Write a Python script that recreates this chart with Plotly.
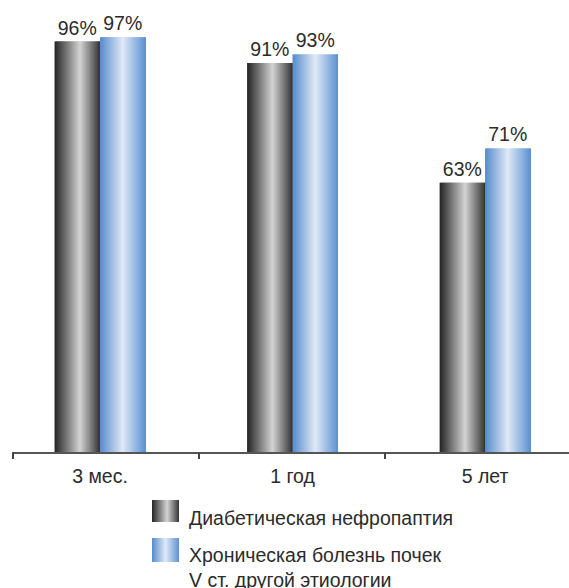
import plotly.graph_objects as go

# ---- data ----
categories = ["3 мес.", "1 год", "5 лет"]
diabetic = [96, 91, 63]          # Диабетическая нефропаптия
other = [97, 93, 71]             # ХБП V ст. другой этиологии
series_names = ["Диабетическая нефропаптия",
                "Хроническая болезнь почек<br>V ст. другой этиологии"]

# ---- styling ----
FONT = "Liberation Sans, Arial, sans-serif"
TXT = "#2b2b2b"
W, H = 569, 588
ML, MR, MT, MB = 12, 0, 0, 136
PW, PH = W - ML - MR, H - MT - MB
X_RANGE = [-0.457, 2.436]
Y_RANGE = [0, 105.73]
BAR_W = 0.236
N_STRIPES = 45
FS = 19.5

dark_stops = [(0.0, (36, 36, 36)), (0.56, (212, 212, 212)), (1.0, (52, 52, 52))]
blue_stops = [(0.0, (86, 139, 204)), (0.5, (224, 233, 247)), (1.0, (92, 146, 209))]


def grad(stops, t):
    for (t0, c0), (t1, c1) in zip(stops[:-1], stops[1:]):
        if t0 <= t <= t1:
            f = (t - t0) / (t1 - t0) if t1 > t0 else 0
            c = [round(a + (b - a) * f) for a, b in zip(c0, c1)]
            return f"rgb({c[0]},{c[1]},{c[2]})"
    c = stops[-1][1]
    return f"rgb({c[0]},{c[1]},{c[2]})"


fig = go.Figure()


def add_gradient_bars(values, base_offset, stops):
    step = BAR_W / N_STRIPES
    for i in range(N_STRIPES):
        t = (i + 0.5) / N_STRIPES
        w = step * 2.2 if i < N_STRIPES - 2 else BAR_W - i * step
        fig.add_trace(go.Bar(
            x=categories, y=values,
            offset=base_offset + i * step, width=w,
            marker=dict(color=grad(stops, t), line=dict(width=0)),
            showlegend=False, hoverinfo="skip",
        ))
    # transparent full-width bar carrying the value labels
    fig.add_trace(go.Bar(
        x=categories, y=values, offset=base_offset, width=BAR_W,
        marker=dict(color="rgba(0,0,0,0)", line=dict(width=0)),
        text=[f"{v}%" for v in values], textposition="outside",
        constraintext="none", cliponaxis=False,
        textfont=dict(family=FONT, size=FS, color=TXT),
        showlegend=False, hoverinfo="skip",
    ))


add_gradient_bars(diabetic, -BAR_W, dark_stops)
add_gradient_bars(other, 0.0, blue_stops)

# empty trace so the tick-mark axis exists
fig.add_trace(go.Scatter(x=[], y=[], xaxis="x2", showlegend=False, hoverinfo="skip"))


def px_to_paper_x(p):
    return (p - ML) / PW


def px_to_paper_y(p):
    return (MT + PH - p) / PH


shapes = []
annotations = []
legend_rows = [
    (dark_stops, 500, 522, 517.5, series_names[0]),
    (blue_stops, 538, 562, 567.4, series_names[1]),
]
SW_X0, SW_X1 = 152, 179
for stops, top, bot, text_mid, label in legend_rows:
    n = 27
    sw = (SW_X1 - SW_X0) / n
    for i in range(n):
        t = (i + 0.5) / n
        x0 = SW_X0 + i * sw
        x1 = min(x0 + sw * 2, SW_X1)
        shapes.append(dict(
            type="rect", xref="paper", yref="paper",
            x0=px_to_paper_x(x0), x1=px_to_paper_x(x1),
            y0=px_to_paper_y(bot), y1=px_to_paper_y(top),
            fillcolor=grad(stops, t), line=dict(width=0), layer="above",
        ))
    annotations.append(dict(
        xref="paper", yref="paper", x=px_to_paper_x(187), y=px_to_paper_y(text_mid),
        xanchor="left", yanchor="middle", align="left", showarrow=False,
        text=label, font=dict(family=FONT, size=FS, color=TXT),
    ))

tick_positions = [-0.453, 0.514, 1.481]

fig.update_layout(
    width=W, height=H,
    margin=dict(l=ML, r=MR, t=MT, b=MB, pad=0),
    paper_bgcolor="white", plot_bgcolor="white",
    barmode="overlay",
    showlegend=False,
    font=dict(family=FONT, size=FS, color=TXT),
    xaxis=dict(
        type="category", range=X_RANGE,
        showline=True, linecolor="#555555", linewidth=1.5,
        ticks="outside", ticklen=6, tickcolor="rgba(0,0,0,0)",
        showgrid=False, zeroline=False,
        tickfont=dict(family=FONT, size=FS, color=TXT),
    ),
    xaxis2=dict(
        overlaying="x", anchor="y", side="bottom",
        range=X_RANGE, tickmode="array", tickvals=tick_positions,
        ticks="outside", ticklen=6, tickwidth=1.5, tickcolor="#444444",
        showticklabels=False, showline=False, showgrid=False, zeroline=False,
    ),
    yaxis=dict(range=Y_RANGE, visible=False, showgrid=False, zeroline=False),
    shapes=shapes,
    annotations=annotations,
)

fig.write_html("out.html")
